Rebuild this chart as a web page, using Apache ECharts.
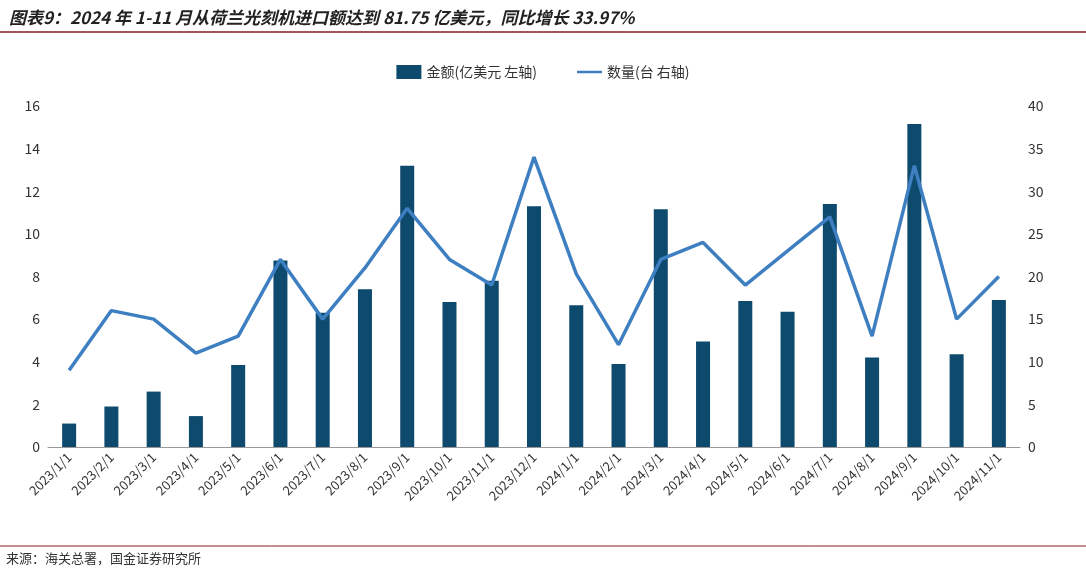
<!DOCTYPE html>
<html><head><meta charset="utf-8">
<script src="https://cdn.jsdelivr.net/npm/echarts@6/dist/echarts.min.js"></script>
<style>html,body{margin:0;padding:0;background:#fff}#c{width:1086px;height:574px}</style>
</head><body><div id="c"></div>
<script>
const categories=['2023/1/1','2023/2/1','2023/3/1','2023/4/1','2023/5/1','2023/6/1','2023/7/1','2023/8/1','2023/9/1','2023/10/1','2023/11/1','2023/12/1','2024/1/1','2024/2/1','2024/3/1','2024/4/1','2024/5/1','2024/6/1','2024/7/1','2024/8/1','2024/9/1','2024/10/1','2024/11/1'];
const amount=[1.1,1.9,2.6,1.45,3.85,8.75,6.3,7.4,13.2,6.8,7.8,11.3,6.65,3.9,11.15,4.95,6.85,6.35,11.4,4.2,15.15,4.35,6.9];
const quantity=[9,16,15,11,13,22,15,21,28,22,19,34,20.3,12,22,24,19,23,27,13,33,15,20];
const chart=echarts.init(document.getElementById('c'));
const ff='"Noto Sans CJK SC", sans-serif';
chart.setOption({
 animation:false,
 textStyle:{fontFamily:ff},
 title:{text:'图表9：2024 年 1-11 月从荷兰光刻机进口额达到 81.75 亿美元，同比增长 33.97%',left:4,top:4,
  textStyle:{fontSize:17,fontWeight:'bold',fontStyle:'italic',color:'#222',fontFamily:ff}},
 graphic:[
  {type:'line',shape:{x1:0,y1:32,x2:1086,y2:32},style:{stroke:'#8b1a1a',lineWidth:1.5}},
  {type:'line',shape:{x1:0,y1:546,x2:1086,y2:546},style:{stroke:'#8b1a1a',lineWidth:1}},
  {type:'text',left:6,top:552,style:{text:'来源：海关总署，国金证券研究所',fontSize:13,fill:'#333',fontFamily:ff}}
 ],
 legend:{top:60,left:'center',itemGap:40,textStyle:{fontSize:14,color:'#333'},
  data:[{name:'金额(亿美元 左轴)',icon:'rect',itemStyle:{color:'#0d4a6e'}},
        {name:'数量(台 右轴)',icon:'path://M0,0 L40,0 L40,4 L0,4 Z',itemStyle:{color:'#3d7fc1'}}]},
 grid:{left:48,right:66,top:106,bottom:127},
 xAxis:{type:'category',data:categories,axisTick:{show:false},
  axisLine:{lineStyle:{color:'#999'}},
  axisLabel:{rotate:45,interval:0,fontSize:13,color:'#333'}},
 yAxis:[
  {type:'value',min:0,max:16,interval:2,splitLine:{show:false},axisLine:{show:false},axisTick:{show:false},axisLabel:{fontSize:14,color:'#333'}},
  {type:'value',min:0,max:40,interval:5,splitLine:{show:false},axisLine:{show:false},axisTick:{show:false},axisLabel:{fontSize:14,color:'#333'}}
 ],
 series:[
  {name:'金额(亿美元 左轴)',type:'bar',data:amount,barWidth:14,itemStyle:{color:'#0d4a6e'}},
  {name:'数量(台 右轴)',type:'line',yAxisIndex:1,data:quantity,symbol:'none',lineStyle:{width:3.5,color:'#3d7fc1'},itemStyle:{color:'#3d7fc1'}}
 ]
});
</script></body></html>
